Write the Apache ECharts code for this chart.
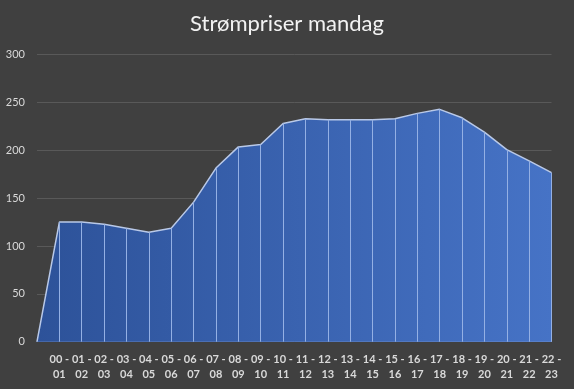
<!DOCTYPE html>
<html>
<head>
<meta charset="utf-8">
<script src="https://cdn.jsdelivr.net/npm/echarts@6/dist/echarts.min.js"></script>
<style>
html,body{margin:0;padding:0;background:#404040;}
#c{width:574px;height:389px;}
</style>
</head>
<body>
<div id="c"></div>
<script>
var categories = ["", "00 - 01", "01 - 02", "02 - 03", "03 - 04", "04 - 05", "05 - 06", "06 - 07", "07 - 08", "08 - 09", "09 - 10", "10 - 11", "11 - 12", "12 - 13", "13 - 14", "14 - 15", "15 - 16", "16 - 17", "17 - 18", "18 - 19", "19 - 20", "20 - 21", "21 - 22", "22 - 23"];
var prices = [0, 125, 125, 122.7, 118.6, 114.4, 118.6, 145.8, 181.4, 203.5, 206, 228, 232.8, 231.8, 231.8, 231.8, 232.8, 238.5, 242.7, 233.9, 218.9, 200.7, 188.8, 176.6];
var yTicks = {min: 0, max: 300, interval: 50};
var title = "Strømpriser mandag";

var chart = echarts.init(document.getElementById('c'));
var drops = [];
for (var i = 1; i < prices.length; i++) {
  drops.push([{coord: [i, 0]}, {coord: [i, prices[i]]}]);
}
chart.setOption({
  backgroundColor: '#404040',
  animation: false,
  title: {
    text: title,
    left: 'center',
    top: 8,
    textStyle: {color: '#f2f2f2', fontSize: 22, fontWeight: 'normal', fontFamily: 'Lato'}
  },
  grid: {left: 37, right: 22.5, top: 54.5, bottom: 47.3},
  xAxis: {
    type: 'category',
    data: categories,
    boundaryGap: false,
    axisLine: {show: true, lineStyle: {color: '#8ea7d8', width: 1}},
    axisTick: {show: false},
    axisLabel: {
      interval: 0,
      color: '#d9d9d9',
      fontFamily: 'Lato',
      fontWeight: 'bold',
      fontSize: 11,
      lineHeight: 15,
      margin: 10,
      formatter: function (v) { return v ? v.replace(' - ', ' -\n') : ''; }
    },
    splitLine: {show: false}
  },
  yAxis: {
    type: 'value',
    min: yTicks.min,
    max: yTicks.max,
    interval: yTicks.interval,
    axisLine: {show: false},
    axisTick: {show: false},
    axisLabel: {color: '#d9d9d9', fontFamily: 'Lato', fontSize: 11, margin: 12},
    splitLine: {lineStyle: {color: '#595959', width: 1}}
  },
  series: [{
    type: 'line',
    data: prices,
    symbol: 'none',
    smooth: false,
    lineStyle: {color: '#b9c9e8', width: 1.5},
    areaStyle: {
      opacity: 1,
      color: new echarts.graphic.LinearGradient(0, 0, 1, 0, [
        {offset: 0, color: '#2d5299'},
        {offset: 1, color: '#4673c6'}
      ])
    },
    markLine: {
      silent: true,
      symbol: 'none',
      label: {show: false},
      lineStyle: {color: '#94b0e4', width: 1, type: 'solid'},
      data: drops
    },
    z: 2
  }]
});
</script>
</body>
</html>
